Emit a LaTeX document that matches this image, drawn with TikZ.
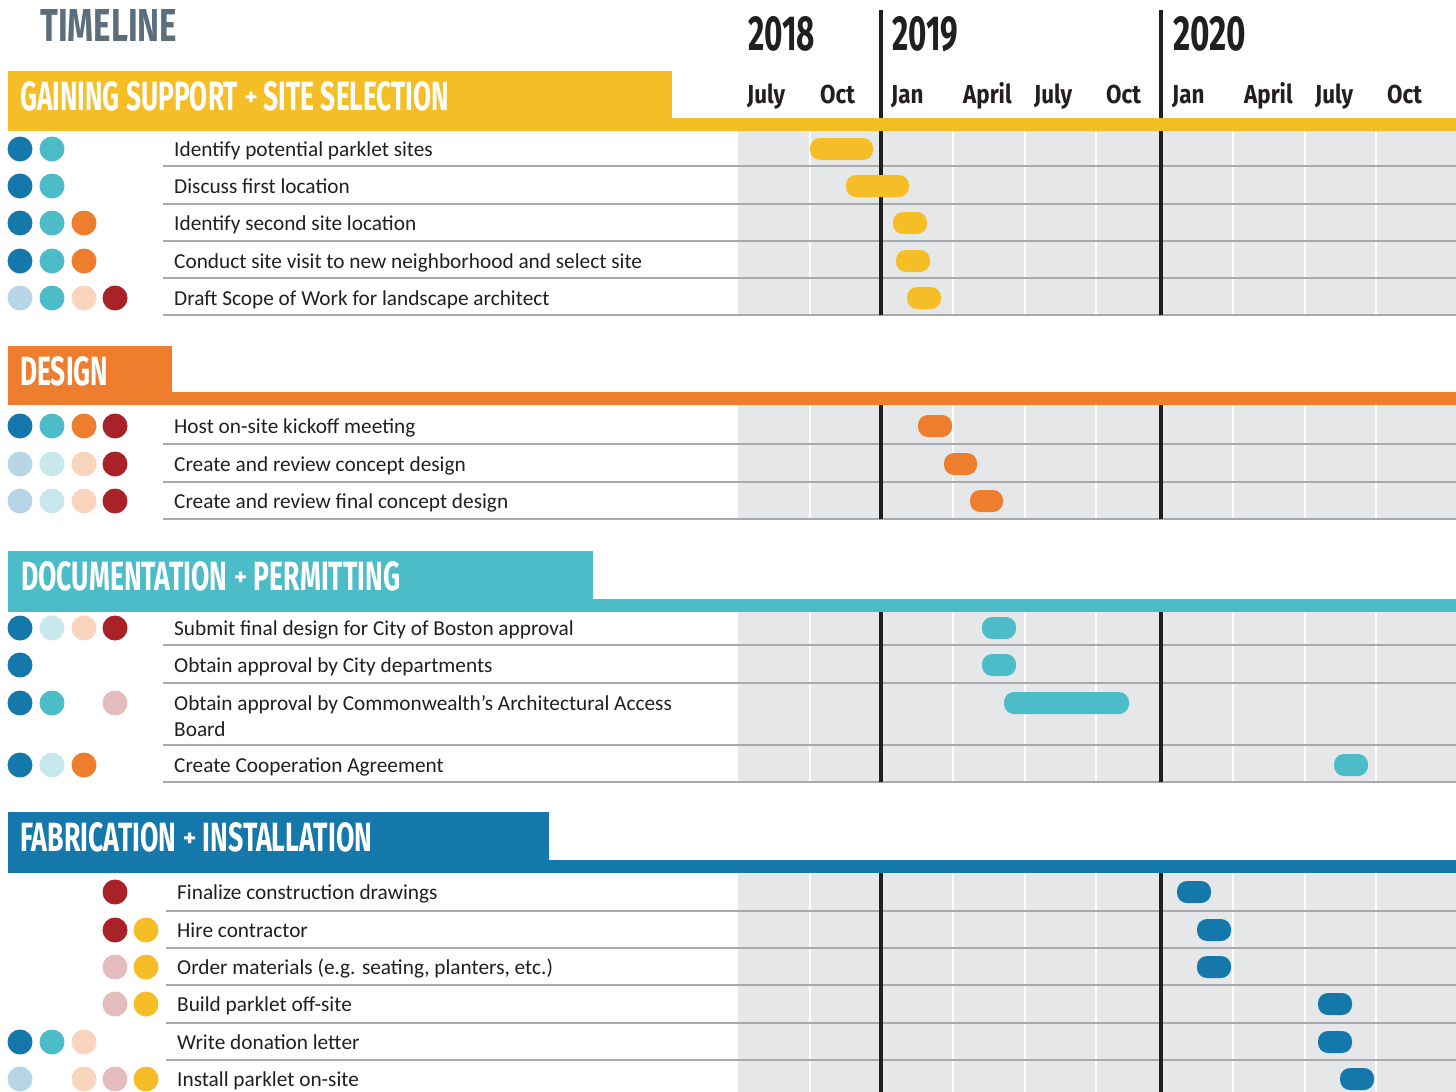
\documentclass[tikz,border=0pt]{standalone}
\usepackage{fontspec}
\setmainfont{Carlito}
\newfontfamily\fira{Fira Sans}
\usepackage{graphicx}
\definecolor{cYel}{HTML}{F5BE27}
\definecolor{cOra}{HTML}{EE7D2D}
\definecolor{cTeal}{HTML}{4BBCC8}
\definecolor{cDB}{HTML}{1478AA}
\definecolor{cRed}{HTML}{A92228}
\definecolor{cLB}{HTML}{B7D5E6}
\definecolor{cLT}{HTML}{C8E8EE}
\definecolor{cPe}{HTML}{F9D5BE}
\definecolor{cPk}{HTML}{E5BCBE}
\definecolor{cGrid}{HTML}{E6E7E8}
\definecolor{cSep}{HTML}{A7A9AC}
\definecolor{cInk}{HTML}{231F20}
\definecolor{cTitle}{HTML}{5B6E7E}
\tikzset{
  tasktext/.style={anchor=base west, inner sep=0pt, text=cInk, font=\fontsize{21.3}{25}\selectfont},
  ganttbar/.style={rectangle, rounded corners=10pt, minimum height=22pt, inner sep=0pt},
  dotmark/.style={circle, minimum size=25pt, inner sep=0pt},
  sepline/.style={draw=cSep, line width=1.8pt},
  yearline/.style={draw=cInk, line width=4pt},
  gridline/.style={draw=white, line width=2pt},
  headtext/.style={anchor=south west, inner sep=0pt, text=white},
  monthlabel/.style={anchor=base west, inner sep=0pt, text=cInk},
}
\newcommand\cnd[2]{{\fontsize{#1}{#1}\selectfont\fira\bfseries\scalebox{0.86}[1]{#2}}}
\newcommand\hfnt{\fontsize{40}{40}\selectfont\fira\bfseries}
\newcommand\plus{\smash{\raisebox{5pt}{\fontsize{24}{24}\selectfont\scalebox{1.6}[1]{+}}}}
\newcommand\task[3][174]{\node[tasktext] (task-#2) at (#1,#2+7.5) {#3};}
\newcommand\gbar[4]{\pgfmathsetmacro\gbw{#3-#2}\node[ganttbar, fill=#4, minimum width=\gbw pt] (bar-#1) at ({(#2+#3)/2},#1) {};}
\newcommand\pdot[3]{\node[dotmark, fill=#3] (dot-#1-#2) at (#1,#2) {};}
\newcommand\gridarea[2]{%
  \fill[cGrid] (738,#1) rectangle (1456,#2);
  \foreach \gx in {810,953,1025,1096,1233,1305,1376} \draw[gridline] (\gx,#1) -- (\gx,#2);
}
\newcommand\yearlines[2]{\draw[yearline] (881,#1) -- (881,#2); \draw[yearline] (1161,#1) -- (1161,#2);}
\newcommand\sep[2][163]{\draw[sepline] (#1,#2) -- (1456,#2);}
\newcommand\head[4]{\fill[#1] (8,#2) rectangle (#3,#4); \fill[#1] (8,#4-13) rectangle (1456,#4);}
\begin{document}
\begin{tikzpicture}[x=1pt,y=-1pt]
\useasboundingbox (0,0) rectangle (1456,1092);
\fill[white] (0,0) rectangle (1456,1092);

% title and time axis
\node[anchor=south west, inner sep=0pt, text=cTitle] (title) at (40,42) {\resizebox{137pt}{32pt}{\fira\bfseries TIMELINE}};
\yearlines{10}{120}
\node[anchor=south west, inner sep=0pt, text=cInk] (y2018) at (748,52) {\resizebox{67pt}{34pt}{\fira\bfseries 2018}};
\node[anchor=south west, inner sep=0pt, text=cInk] (y2019) at (892,52) {\resizebox{66pt}{34pt}{\fira\bfseries 2019}};
\node[anchor=south west, inner sep=0pt, text=cInk] (y2020) at (1173,52) {\resizebox{73pt}{34pt}{\fira\bfseries 2020}};
\node[monthlabel] (m1) at (747,103) {\cnd{26}{July}};
\node[monthlabel] (m2) at (820,103) {\cnd{26}{Oct}};
\node[monthlabel] (m3) at (891,103) {\cnd{26}{Jan}};
\node[monthlabel] (m4) at (963,103) {\cnd{26}{April}};
\node[monthlabel] (m5) at (1034,103) {\cnd{26}{July}};
\node[monthlabel] (m6) at (1106,103) {\cnd{26}{Oct}};
\node[monthlabel] (m7) at (1172,103) {\cnd{26}{Jan}};
\node[monthlabel] (m8) at (1244,103) {\cnd{26}{April}};
\node[monthlabel] (m9) at (1315,103) {\cnd{26}{July}};
\node[monthlabel] (m10) at (1387,103) {\cnd{26}{Oct}};

% ---------- Section 1
\head{cYel}{71}{672}{131}
\node[headtext] (h1) at (20,111) {\resizebox{429pt}{29pt}{\hfnt GAINING SUPPORT \plus{} SITE SELECTION}};
\gridarea{131}{315}
\foreach \yy in {166,204,241,278,315} {\sep{\yy}}
\yearlines{131}{315}
\task{149}{Identify potential parklet sites}
\task{186}{Discuss first location}
\task{223}{Identify second site location}
\task{261}{Conduct site visit to new neighborhood and select site}
\task{298}{Draft Scope of Work for landscape architect}
\pdot{20}{149}{cDB}\pdot{52}{149}{cTeal}
\pdot{20}{186}{cDB}\pdot{52}{186}{cTeal}
\pdot{20}{223}{cDB}\pdot{52}{223}{cTeal}\pdot{84}{223}{cOra}
\pdot{20}{261}{cDB}\pdot{52}{261}{cTeal}\pdot{84}{261}{cOra}
\pdot{20}{298}{cLB}\pdot{52}{298}{cTeal}\pdot{84}{298}{cPe}\pdot{115}{298}{cRed}
\gbar{149}{810}{873}{cYel}
\gbar{186}{846}{909}{cYel}
\gbar{223}{893}{927}{cYel}
\gbar{261}{896}{930}{cYel}
\gbar{298}{907}{941}{cYel}

% ---------- Section 2
\head{cOra}{346}{172}{405}
\node[headtext] (h2) at (20,386) {\resizebox{88pt}{29pt}{\hfnt DESIGN}};
\gridarea{405}{519}
\foreach \yy in {444,482,519} {\sep{\yy}}
\yearlines{405}{519}
\task{426}{Host on-site kickoff meeting}
\task{464}{Create and review concept design}
\task{501}{Create and review final concept design}
\pdot{20}{426}{cDB}\pdot{52}{426}{cTeal}\pdot{84}{426}{cOra}\pdot{115}{426}{cRed}
\pdot{20}{464}{cLB}\pdot{52}{464}{cLT}\pdot{84}{464}{cPe}\pdot{115}{464}{cRed}
\pdot{20}{501}{cLB}\pdot{52}{501}{cLT}\pdot{84}{501}{cPe}\pdot{115}{501}{cRed}
\gbar{426}{918}{952}{cOra}
\gbar{464}{944}{977}{cOra}
\gbar{501}{970}{1003}{cOra}

% ---------- Section 3
\head{cTeal}{551}{593}{612}
\node[headtext] (h3) at (21,591) {\resizebox{379pt}{29pt}{\hfnt DOCUMENTATION \plus{} PERMITTING}};
\gridarea{612}{782}
\foreach \yy in {645,683,745,782} {\sep{\yy}}
\yearlines{612}{782}
\task{628}{Submit final design for City of Boston approval}
\task{665}{Obtain approval by City departments}
\task{703}{Obtain approval by Commonwealth’s Architectural Access}
\task{729}{Board}
\task{765}{Create Cooperation Agreement}
\pdot{20}{628}{cDB}\pdot{52}{628}{cLT}\pdot{84}{628}{cPe}\pdot{115}{628}{cRed}
\pdot{20}{665}{cDB}
\pdot{20}{703}{cDB}\pdot{52}{703}{cTeal}\pdot{115}{703}{cPk}
\pdot{20}{765}{cDB}\pdot{52}{765}{cLT}\pdot{84}{765}{cOra}
\gbar{628}{982}{1016}{cTeal}
\gbar{665}{982}{1016}{cTeal}
\gbar{703}{1004}{1129}{cTeal}
\gbar{765}{1334}{1368}{cTeal}

% ---------- Section 4
\head{cDB}{812}{549}{873}
\node[headtext] (h4) at (20,852) {\resizebox{352pt}{29pt}{\hfnt FABRICATION \plus{} INSTALLATION}};
\gridarea{873}{1092}
\foreach \yy in {911,948,985,1023,1060} {\sep[166]{\yy}}
\yearlines{873}{1092}
\task[177]{892}{Finalize construction drawings}
\task[177]{930}{Hire contractor}
\task[177]{967}{Order materials (e.g. seating, planters, etc.)}
\task[177]{1004}{Build parklet off-site}
\task[177]{1042}{Write donation letter}
\task[177]{1079}{Install parklet on-site}
\pdot{115}{892}{cRed}
\pdot{115}{930}{cRed}\pdot{146}{930}{cYel}
\pdot{115}{967}{cPk}\pdot{146}{967}{cYel}
\pdot{115}{1004}{cPk}\pdot{146}{1004}{cYel}
\pdot{20}{1042}{cDB}\pdot{52}{1042}{cTeal}\pdot{84}{1042}{cPe}
\pdot{20}{1079}{cLB}\pdot{84}{1079}{cPe}\pdot{115}{1079}{cPk}\pdot{146}{1079}{cYel}
\gbar{892}{1177}{1211}{cDB}
\gbar{930}{1197}{1231}{cDB}
\gbar{967}{1197}{1231}{cDB}
\gbar{1004}{1318}{1352}{cDB}
\gbar{1042}{1318}{1352}{cDB}
\gbar{1079}{1340}{1374}{cDB}
\end{tikzpicture}
\end{document}
